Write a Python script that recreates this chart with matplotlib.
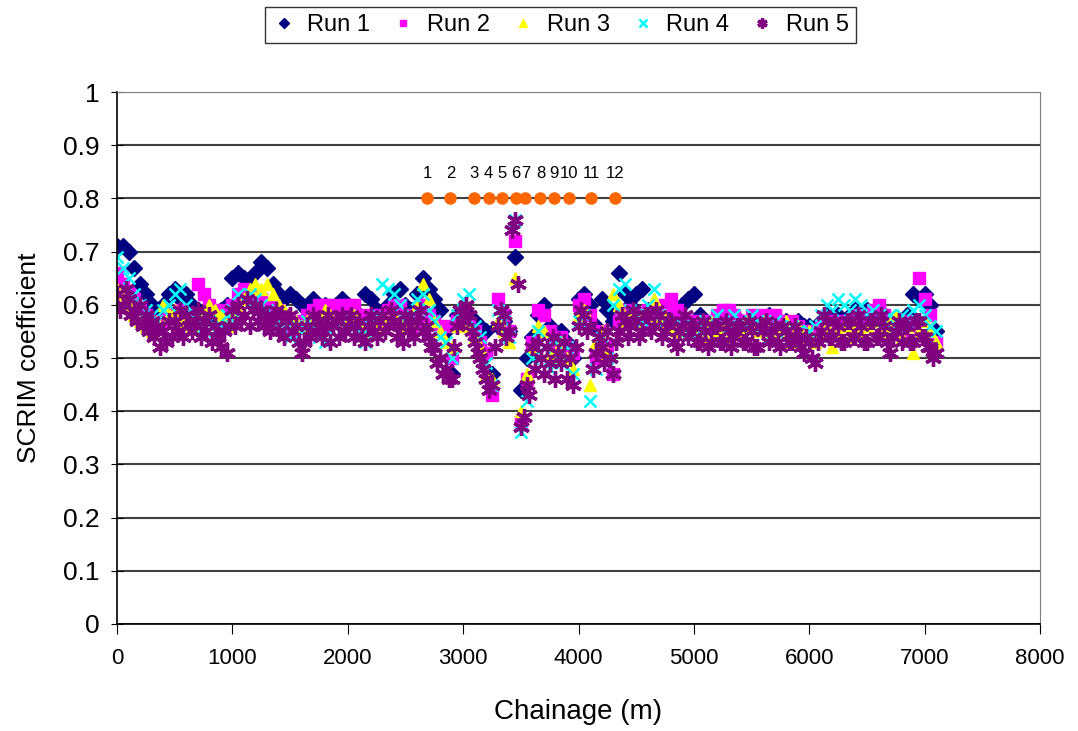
import matplotlib.pyplot as plt

plt.rcParams['font.family'] = ['Liberation Sans', 'DejaVu Sans']

# chainage (m): runs 1-4 read every 50 m, run 5 every 25 m
chainage = list(range(0, 7101, 50))
chainage_run5 = list(range(0, 7101, 25))

# SCRIM coefficient per run, rows of 500 m
run1 = [0.71, 0.71, 0.70, 0.67, 0.64, 0.62, 0.60, 0.59, 0.60, 0.62,
        0.63, 0.61, 0.62, 0.60, 0.59, 0.57, 0.58, 0.58, 0.59, 0.60,
        0.65, 0.66, 0.65, 0.64, 0.66, 0.68, 0.67, 0.64, 0.62, 0.61,
        0.62, 0.61, 0.60, 0.59, 0.61, 0.59, 0.60, 0.59, 0.60, 0.61,
        0.60, 0.59, 0.58, 0.62, 0.61, 0.59, 0.58, 0.60, 0.62, 0.63,
        0.60, 0.59, 0.62, 0.65, 0.63, 0.61, 0.59, 0.55, 0.47, 0.58,
        0.59, 0.58, 0.57, 0.56, 0.55, 0.47, 0.56, 0.57, 0.55, 0.69,
        0.44, 0.50, 0.54, 0.58, 0.60, 0.56, 0.52, 0.55, 0.53, 0.50,
        0.61, 0.62, 0.60, 0.56, 0.61, 0.59, 0.57, 0.66, 0.62, 0.60,
        0.62, 0.63, 0.59, 0.58, 0.59, 0.58, 0.57, 0.58, 0.60, 0.61,
        0.62, 0.58, 0.57, 0.56, 0.57, 0.58, 0.57, 0.56, 0.57, 0.56,
        0.57, 0.56, 0.57, 0.58, 0.57, 0.56, 0.57, 0.56, 0.57, 0.56,
        0.56, 0.55, 0.57, 0.58, 0.57, 0.58, 0.57, 0.58, 0.59, 0.58,
        0.59, 0.58, 0.59, 0.58, 0.57, 0.56, 0.57, 0.58, 0.62, 0.61,
        0.62, 0.60, 0.55]

run2 = [0.66, 0.64, 0.62, 0.61, 0.59, 0.58, 0.57, 0.56, 0.57, 0.58,
        0.58, 0.59, 0.58, 0.57, 0.64, 0.62, 0.60, 0.59, 0.58, 0.59,
        0.60, 0.62, 0.63, 0.62, 0.62, 0.61, 0.60, 0.60, 0.59, 0.58,
        0.55, 0.57, 0.56, 0.58, 0.59, 0.60, 0.60, 0.60, 0.59, 0.60,
        0.60, 0.60, 0.58, 0.56, 0.58, 0.57, 0.58, 0.59, 0.60, 0.60,
        0.58, 0.56, 0.57, 0.60, 0.58, 0.57, 0.55, 0.56, 0.50, 0.57,
        0.58, 0.56, 0.55, 0.53, 0.51, 0.43, 0.61, 0.58, 0.55, 0.72,
        0.38, 0.46, 0.53, 0.59, 0.58, 0.55, 0.52, 0.54, 0.52, 0.51,
        0.60, 0.61, 0.58, 0.50, 0.55, 0.52, 0.47, 0.57, 0.59, 0.57,
        0.58, 0.57, 0.59, 0.58, 0.59, 0.60, 0.61, 0.59, 0.57, 0.57,
        0.56, 0.57, 0.56, 0.57, 0.58, 0.59, 0.59, 0.58, 0.57, 0.57,
        0.58, 0.57, 0.58, 0.57, 0.58, 0.57, 0.56, 0.57, 0.56, 0.55,
        0.55, 0.54, 0.56, 0.57, 0.56, 0.57, 0.56, 0.57, 0.58, 0.57,
        0.58, 0.59, 0.60, 0.58, 0.57, 0.56, 0.55, 0.57, 0.56, 0.65,
        0.61, 0.58, 0.53]

run3 = [0.63, 0.62, 0.60, 0.58, 0.57, 0.56, 0.55, 0.57, 0.60, 0.58,
        0.59, 0.57, 0.58, 0.56, 0.57, 0.58, 0.60, 0.59, 0.58, 0.56,
        0.58, 0.60, 0.61, 0.63, 0.64, 0.63, 0.64, 0.62, 0.60, 0.59,
        0.58, 0.57, 0.56, 0.57, 0.58, 0.57, 0.59, 0.58, 0.57, 0.58,
        0.57, 0.58, 0.57, 0.55, 0.57, 0.56, 0.58, 0.57, 0.58, 0.57,
        0.56, 0.57, 0.60, 0.64, 0.61, 0.57, 0.55, 0.53, 0.52, 0.56,
        0.57, 0.56, 0.54, 0.52, 0.47, 0.46, 0.57, 0.55, 0.53, 0.65,
        0.40, 0.47, 0.52, 0.56, 0.55, 0.51, 0.50, 0.53, 0.50, 0.48,
        0.58, 0.59, 0.45, 0.53, 0.55, 0.51, 0.62, 0.60, 0.57, 0.58,
        0.57, 0.58, 0.58, 0.61, 0.57, 0.58, 0.56, 0.55, 0.56, 0.55,
        0.55, 0.56, 0.54, 0.57, 0.55, 0.56, 0.54, 0.56, 0.55, 0.57,
        0.56, 0.55, 0.57, 0.54, 0.56, 0.55, 0.57, 0.53, 0.56, 0.54,
        0.55, 0.53, 0.55, 0.56, 0.52, 0.55, 0.56, 0.54, 0.56, 0.55,
        0.56, 0.57, 0.55, 0.56, 0.57, 0.58, 0.54, 0.56, 0.51, 0.55,
        0.57, 0.55, 0.53]

run4 = [0.69, 0.67, 0.65, 0.62, 0.60, 0.59, 0.58, 0.57, 0.59, 0.60,
        0.62, 0.63, 0.60, 0.58, 0.57, 0.56, 0.57, 0.55, 0.56, 0.58,
        0.59, 0.62, 0.61, 0.62, 0.61, 0.60, 0.59, 0.58, 0.57, 0.55,
        0.54, 0.56, 0.55, 0.57, 0.56, 0.54, 0.53, 0.55, 0.56, 0.57,
        0.55, 0.56, 0.54, 0.53, 0.56, 0.58, 0.64, 0.63, 0.62, 0.60,
        0.57, 0.58, 0.61, 0.62, 0.59, 0.57, 0.54, 0.53, 0.50, 0.58,
        0.61, 0.62, 0.56, 0.54, 0.49, 0.45, 0.59, 0.57, 0.54, 0.76,
        0.36, 0.42, 0.50, 0.55, 0.52, 0.48, 0.53, 0.49, 0.52, 0.47,
        0.57, 0.58, 0.42, 0.48, 0.54, 0.50, 0.60, 0.63, 0.64, 0.59,
        0.58, 0.57, 0.60, 0.63, 0.58, 0.57, 0.56, 0.57, 0.56, 0.55,
        0.56, 0.55, 0.57, 0.56, 0.58, 0.57, 0.56, 0.58, 0.57, 0.56,
        0.58, 0.57, 0.56, 0.54, 0.57, 0.56, 0.55, 0.56, 0.55, 0.54,
        0.55, 0.56, 0.58, 0.60, 0.59, 0.61, 0.60, 0.59, 0.61, 0.60,
        0.58, 0.59, 0.58, 0.57, 0.58, 0.56, 0.58, 0.57, 0.59, 0.60,
        0.58, 0.56, 0.55]

run5 = [0.62, 0.59, 0.60, 0.63, 0.61, 0.58, 0.59, 0.57, 0.60, 0.56,
        0.58, 0.55, 0.57, 0.54, 0.56, 0.52, 0.55, 0.53, 0.57, 0.54,
        0.57, 0.55, 0.59, 0.54, 0.58, 0.56, 0.55, 0.57, 0.59, 0.54,
        0.57, 0.55, 0.58, 0.53, 0.56, 0.54, 0.52, 0.55, 0.51, 0.56,
        0.59, 0.56, 0.60, 0.57, 0.58, 0.61, 0.56, 0.59, 0.60, 0.57,
        0.59, 0.56, 0.58, 0.55, 0.57, 0.59, 0.55, 0.58, 0.54, 0.57,
        0.58, 0.55, 0.56, 0.53, 0.51, 0.53, 0.56, 0.54, 0.58, 0.55,
        0.57, 0.54, 0.56, 0.58, 0.53, 0.56, 0.57, 0.54, 0.58, 0.55,
        0.56, 0.58, 0.54, 0.56, 0.57, 0.54, 0.53, 0.56, 0.58, 0.55,
        0.54, 0.57, 0.58, 0.55, 0.56, 0.59, 0.57, 0.54, 0.56, 0.53,
        0.58, 0.55, 0.57, 0.54, 0.57, 0.59, 0.55, 0.56, 0.54, 0.52,
        0.52, 0.49, 0.50, 0.47, 0.48, 0.46, 0.46, 0.52, 0.56, 0.59,
        0.57, 0.60, 0.58, 0.55, 0.53, 0.51, 0.50, 0.48, 0.46, 0.44,
        0.45, 0.52, 0.56, 0.59, 0.58, 0.54, 0.55, 0.74, 0.76, 0.64,
        0.37, 0.39, 0.45, 0.43, 0.52, 0.48, 0.53, 0.50, 0.47, 0.52,
        0.49, 0.54, 0.46, 0.51, 0.49, 0.53, 0.46, 0.50, 0.45, 0.52,
        0.56, 0.59, 0.58, 0.55, 0.56, 0.48, 0.51, 0.54, 0.52, 0.49,
        0.55, 0.50, 0.47, 0.53, 0.55, 0.58, 0.57, 0.54, 0.56, 0.59,
        0.57, 0.54, 0.55, 0.58, 0.58, 0.55, 0.56, 0.59, 0.58, 0.54,
        0.55, 0.57, 0.57, 0.53, 0.52, 0.55, 0.56, 0.58, 0.54, 0.56,
        0.56, 0.53, 0.53, 0.57, 0.55, 0.52, 0.53, 0.56, 0.56, 0.53,
        0.53, 0.57, 0.55, 0.52, 0.54, 0.56, 0.56, 0.53, 0.53, 0.57,
        0.55, 0.52, 0.52, 0.56, 0.55, 0.57, 0.53, 0.55, 0.56, 0.53,
        0.52, 0.56, 0.55, 0.53, 0.53, 0.56, 0.54, 0.52, 0.51, 0.54,
        0.53, 0.50, 0.49, 0.53, 0.55, 0.58, 0.57, 0.54, 0.54, 0.57,
        0.56, 0.53, 0.53, 0.57, 0.57, 0.54, 0.54, 0.58, 0.56, 0.53,
        0.53, 0.57, 0.57, 0.54, 0.54, 0.58, 0.56, 0.53, 0.51, 0.54,
        0.55, 0.57, 0.53, 0.56, 0.56, 0.53, 0.53, 0.57, 0.57, 0.54,
        0.54, 0.52, 0.52, 0.50, 0.51]

# numbered sites marked along the 0.8 line
site_labels = ['1', '2', '3', '4', '5', '6', '7', '8', '9', '10', '11', '12']
site_chainage = [2690, 2890, 3090, 3220, 3340, 3460, 3540, 3670, 3790, 3920, 4110, 4320]
site_level = [0.8] * 12

fig = plt.figure(figsize=(10.78, 7.31), dpi=100)
ax = fig.add_axes([0.1085, 0.1464, 0.8563, 0.7277])

ax.plot(chainage, run1, ls='none', marker='D', ms=8, color='#000080', label='Run 1')
ax.plot(chainage, run2, ls='none', marker='s', ms=8, color='#FF00FF', label='Run 2')
ax.plot(chainage, run3, ls='none', marker='^', ms=9, color='#FFFF00', label='Run 3')
ax.plot(chainage, run4, ls='none', marker='x', ms=9, mew=1.8, color='#00FFFF', label='Run 4')
ax.plot(chainage_run5, run5, ls='none', marker=(6, 2, 0), ms=12, mew=2.4, color='#800080', label='Run 5')

ax.plot(site_chainage, site_level, ls='none', marker='o', ms=8, color='#FF6600')
for lab, x, y in zip(site_labels, site_chainage, site_level):
    ax.text(x, y + 0.033, lab, ha='center', va='bottom', fontsize=12)

ax.set_xlim(0, 8000)
ax.set_ylim(0, 1)
ax.set_xticks(range(0, 8001, 1000))
ax.set_yticks([i / 10 for i in range(11)])
ax.set_yticklabels(['0', '0.1', '0.2', '0.3', '0.4', '0.5', '0.6', '0.7', '0.8', '0.9', '1'])
ax.yaxis.grid(True, color='#404040', lw=1.5)
ax.set_axisbelow(True)
for side in ['top', 'right']:
    ax.spines[side].set_color('#808080')
for side in ['left', 'bottom']:
    ax.spines[side].set_color('black')
    ax.spines[side].set_linewidth(1.2)
ax.tick_params(axis='x', direction='out', length=7, labelsize=16, pad=10)
ax.tick_params(axis='y', direction='inout', length=9, labelsize=19, pad=8)
ax.set_xlabel('Chainage (m)', fontsize=20, labelpad=22)
ax.set_ylabel('SCRIM coefficient', fontsize=19, labelpad=16)

fig.legend(loc='upper center', bbox_to_anchor=(0.52, 1.0), ncol=5, fontsize=17,
           frameon=True, fancybox=False, edgecolor='black', handlelength=1,
           handletextpad=0.5, columnspacing=0.9, borderpad=0.3, borderaxespad=0.3,
           markerscale=0.6)

fig.savefig('out.png', dpi=100)
